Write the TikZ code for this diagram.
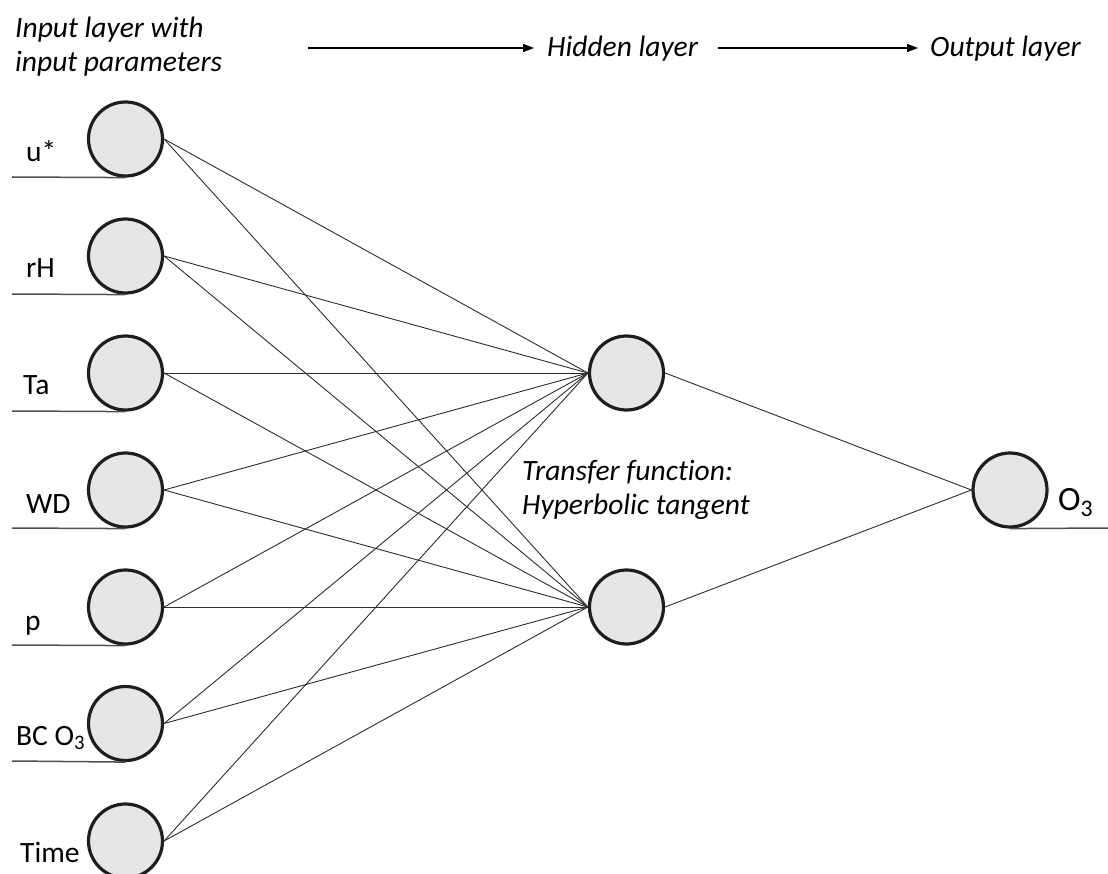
\documentclass[tikz,border=0pt]{standalone}
\usepackage{fontspec}
\setmainfont{Carlito}[Ligatures=NoCommon]
\usetikzlibrary{arrows.meta}
\begin{document}
\begin{tikzpicture}[x=1pt,y=-1pt,
 neuron/.style={circle,draw={rgb,255:red,30;green,30;blue,30},line width=3.2pt,fill={rgb,255:red,230;green,230;blue,230},minimum size=74pt,inner sep=0pt},
 link/.style={draw={rgb,255:red,45;green,45;blue,45},line width=0.9pt},
 baseline/.style={draw={rgb,255:red,80;green,80;blue,80},line width=1.5pt},
 lab/.style={anchor=base west,inner sep=0pt,font=\fontsize{29.5}{35}\selectfont},
 head/.style={anchor=base west,inner sep=0pt,font=\fontsize{29.5}{35}\selectfont\itshape},
 hdarrow/.style={draw=black,line width=1.3pt,-{Triangle[length=11pt,width=8pt]}}]
\useasboundingbox (0,0) rectangle (1108,874);

% header
\node[head] (t1) at (15,38) {Input layer with};
\node[head] (t2) at (15,72) {input parameters};
\node[head] (th) at (547,57) {Hidden layer};
\node[head] (to) at (930,57) {Output layer};
\coordinate (a1s) at (308,48);
\coordinate (a1e) at (534,48);
\coordinate (a2s) at (718,48);
\coordinate (a2e) at (918,48);
\draw[hdarrow] (a1s) -- (a1e);
\draw[hdarrow] (a2s) -- (a2e);

% neurons
\node[neuron] (i1) at (125.5,139) {};
\node[neuron] (i2) at (125.5,256) {};
\node[neuron] (i3) at (125.5,373) {};
\node[neuron] (i4) at (125.5,490) {};
\node[neuron] (i5) at (125.5,607) {};
\node[neuron] (i6) at (125.5,723.5) {};
\node[neuron] (i7) at (125.5,841) {};
\node[neuron] (h1) at (626.5,373) {};
\node[neuron] (h2) at (626.5,607) {};
\node[neuron] (o) at (1010,490) {};

% underlines
\coordinate (u1) at (12,177);
\coordinate (u2) at (12,294);
\coordinate (u3) at (12,411);
\coordinate (u4) at (12,528);
\coordinate (u5) at (12,645);
\coordinate (u6) at (12,761);
\coordinate (uo) at (1108,528);
\foreach \k in {1,...,6} {\draw[baseline] (u\k) -- (i\k.south);}
\draw[baseline] (o.south) -- (uo);

% labels
\node[lab] (l1) at (26,162) {u*};
\node[lab] (l2) at (26,278) {rH};
\node[lab] (l3) at (23,395) {Ta};
\node[lab] (l4) at (26,513) {WD};
\node[lab] (l5) at (25,630) {p};
\node[lab] (l6) at (16,745) {BC O\textsubscript{3}};
\node[lab] (l7) at (20,862) {Time};
\node[lab,font=\fontsize{34}{40}\selectfont] (lo) at (1058,510) {O\textsubscript{3}};

\node[head] (tf1) at (522,480) {Transfer function:};
\node[head] (tf2) at (522,514) {Hyperbolic tangent};

% connectors
\foreach \k in {1,...,7} {
  \draw[link] (i\k.east) -- (h1.west);
  \draw[link] (i\k.east) -- (h2.west);
}
\draw[link] (h1.east) -- (o.west);
\draw[link] (h2.east) -- (o.west);
\end{tikzpicture}
\end{document}
